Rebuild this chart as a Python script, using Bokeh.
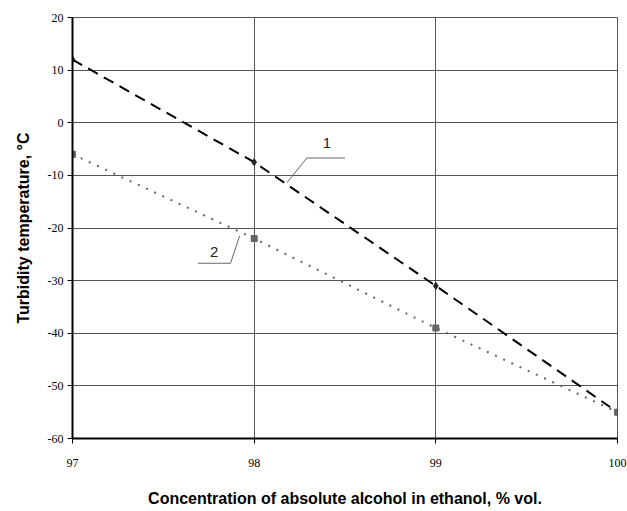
from bokeh.plotting import figure
from bokeh.models import Range1d, FixedTicker, Label, PrintfTickFormatter
from bokeh.embed import file_html
from bokeh.resources import INLINE

x_vals = [97, 98, 99, 100]
series1 = [12, -7.5, -31, -55]
series2 = [-6, -22, -39, -55]
x_ticks = [97, 98, 99, 100]
y_ticks = [-60, -50, -40, -30, -20, -10, 0, 10, 20]

# leader lines for labels (data coords)
lead1_x = [98.18, 98.29, 98.50]
lead1_y = [-11.4, -6.7, -6.7]
lead2_x = [97.69, 97.87, 97.92]
lead2_y = [-26.7, -26.7, -21.5]

FONT = "Liberation Sans"
TICKFONT = "Liberation Sans Narrow"

p = figure(width=627, height=511, output_backend="svg", toolbar_location=None,
           x_range=Range1d(97, 100), y_range=Range1d(-60, 20))
p.min_border_left = 72
p.min_border_right = 10
p.min_border_top = 17
p.min_border_bottom = 73
p.background_fill_color = "white"
p.border_fill_color = "white"
p.outline_line_color = "#555555"
p.outline_line_width = 1

for ax in (p.xaxis[0], p.yaxis[0]):
    ax.axis_line_color = "black"
    ax.axis_line_width = 2
    ax.major_tick_line_color = "black"
    ax.major_tick_line_width = 1
    ax.minor_tick_line_color = None
    ax.major_tick_in = 0
    ax.major_tick_out = 5
    ax.major_label_text_font = TICKFONT
    ax.major_label_text_font_size = "12px"
    ax.major_label_text_color = "black"
    ax.axis_label_text_font = FONT
    ax.axis_label_text_font_size = "16px"
    ax.axis_label_text_font_style = "bold"
    ax.axis_label_text_color = "black"
    ax.formatter = PrintfTickFormatter(format="%d")

p.xaxis.ticker = FixedTicker(ticks=x_ticks)
p.yaxis.ticker = FixedTicker(ticks=y_ticks)
p.xaxis.major_label_standoff = 15
p.yaxis.major_label_standoff = 4
p.xaxis.axis_label = "Concentration of absolute alcohol in ethanol, % vol."
p.yaxis.axis_label = "Turbidity temperature, \u00b0C"
p.xaxis.axis_label_standoff = 20
p.yaxis.axis_label_standoff = 13

p.xgrid.ticker = FixedTicker(ticks=x_ticks)
p.ygrid.ticker = FixedTicker(ticks=y_ticks)
p.xgrid.grid_line_color = "#555555"
p.ygrid.grid_line_color = "#555555"
p.xgrid.grid_line_width = 1
p.ygrid.grid_line_width = 1

p.line(x_vals, series1, line_color="black", line_width=2, line_dash="11 7")
p.scatter(x_vals, series1, marker="diamond", size=7, color="#222222")
p.line(x_vals, series2, line_color="#666666", line_width=2, line_dash="2 7")
p.scatter(x_vals, series2, marker="square", size=6, color="#666666")

p.line(lead1_x, lead1_y, line_color="#666666", line_width=1)
p.line(lead2_x, lead2_y, line_color="#666666", line_width=1)

p.add_layout(Label(x=98.40, y=-3.8, text="1", text_font=FONT, text_font_size="15px",
                   text_align="center", text_baseline="middle", text_color="#222222"))
p.add_layout(Label(x=97.78, y=-24.6, text="2", text_font=FONT, text_font_size="15px",
                   text_align="center", text_baseline="middle", text_color="#222222"))

open("out.html", "w").write(file_html(p, INLINE))
